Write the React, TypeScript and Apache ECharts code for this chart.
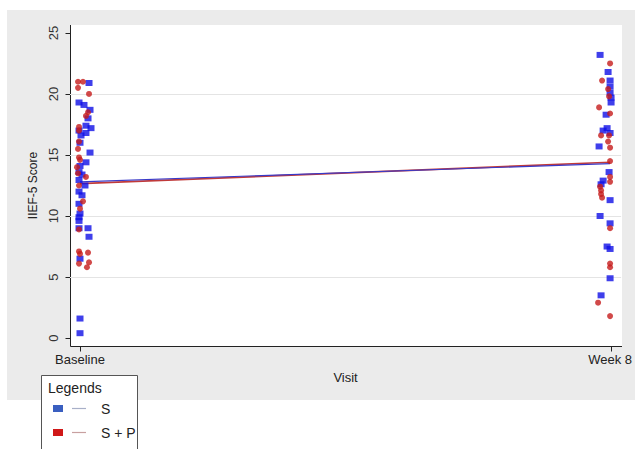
import React, { useEffect, useRef } from "react";
import * as echarts from "echarts";

// Visit positions (weeks): Baseline = 0, Week 8 = 8 ; small horizontal jitter as in the figure
const visitTicks = [0, 8];
const visitLabels = ["Baseline", "Week 8"];
const yTicks = [0, 5, 10, 15, 20, 25];
const gridValues = [5, 10, 15, 20];
const xRange = [-0.151, 8.166];
const yRange = [-0.65, 25.65];

// Group S (blue squares) : [visit (jittered), IIEF-5 score]
const sPoints: number[][] = [
  [0.136, 20.9], [-0.015, 19.3], [0.06, 19.1], [0.151, 18.7], [0.121, 18.0], [0.09, 17.4],
  [0.166, 17.2], [-0.015, 17.0], [0.015, 16.6], [0.09, 16.8], [0.0, 16.0], [0.151, 15.2],
  [0.09, 14.4], [0.0, 14.1], [-0.015, 13.6], [0.03, 13.4], [-0.015, 12.95], [0.075, 12.5],
  [-0.015, 12.0], [0.03, 11.7], [-0.015, 11.0], [0.0, 10.2], [-0.015, 9.9], [-0.015, 9.6],
  [-0.015, 9.0], [0.121, 9.0], [0.136, 8.3], [0.0, 6.5], [0.0, 1.6], [0.0, 0.4],
  [7.849, 23.2], [7.97, 21.8], [8.0, 21.1], [8.0, 20.6], [8.0, 20.1], [8.015, 19.7],
  [8.015, 19.3], [7.94, 18.3], [7.955, 17.2], [7.895, 17.0], [8.0, 16.8], [7.834, 15.7],
  [7.985, 13.6], [7.895, 12.9], [7.864, 12.6], [8.0, 11.3], [7.849, 10.0], [8.0, 9.4],
  [7.955, 7.5], [8.0, 7.3], [8.0, 4.9], [7.864, 3.5],
];

// Group S + P (red circles)
const spPoints: number[][] = [
  [-0.03, 21.0], [0.045, 21.0], [-0.03, 20.5], [0.136, 20.0], [0.121, 18.5], [0.09, 18.2],
  [-0.015, 17.3], [-0.015, 17.0], [-0.015, 16.1], [-0.03, 15.5], [-0.015, 14.8], [0.0, 14.6],
  [-0.045, 14.0], [-0.03, 13.5], [0.09, 13.2], [-0.015, 12.5], [0.045, 11.2], [0.0, 10.6],
  [-0.015, 8.9], [-0.015, 7.1], [0.0, 6.9], [0.121, 7.0], [-0.015, 6.1], [0.136, 6.2],
  [0.105, 5.8],
  [8.0, 22.5], [7.879, 21.1], [7.97, 20.4], [7.985, 19.8], [7.834, 18.9], [8.0, 18.4],
  [7.864, 16.6], [7.985, 16.6], [7.97, 16.1], [8.0, 15.6], [8.0, 14.5], [8.0, 13.2],
  [8.0, 12.8], [7.849, 12.4], [7.864, 12.1], [7.864, 11.8], [7.879, 11.5], [8.0, 9.0],
  [8.0, 6.1], [8.0, 5.8], [7.819, 2.9], [8.0, 1.8],
];

// Fitted mean lines (Baseline -> Week 8)
const sFit = [[0, 12.8], [8, 14.3]];
const spFit = [[0, 12.65], [8, 14.4]];

const BLUE = "#0f0fe6";
const RED = "#c61c1c";
const AXIS = "#222222";
const FONT = "'Liberation Sans', Arial, sans-serif";

// plot frame
const W = 635, H = 449;
const G = { left: 70, right: 13, top: 25, bottom: 103 };

export default function App() {
  const ref = useRef<HTMLDivElement>(null);
  useEffect(() => {
    if (!ref.current) return;
    const chart = echarts.init(ref.current, undefined, { renderer: "svg" });

    const x0 = G.left, x1 = W - G.right, y0 = G.top, y1 = H - G.bottom;
    const yPix = (v: number) => y1 - ((v - yRange[0]) / (yRange[1] - yRange[0])) * (y1 - y0);
    const xPix = (v: number) => x0 + ((v - xRange[0]) / (xRange[1] - xRange[0])) * (x1 - x0);
    const ax = x0 + 0.5, ay = y1 + 0.5;
    const axisEls: any[] = [
      { type: "line", shape: { x1: ax, y1: y0, x2: ax, y2: ay }, style: { stroke: AXIS, lineWidth: 1 } },
      { type: "line", shape: { x1: ax, y1: ay, x2: x1, y2: ay }, style: { stroke: AXIS, lineWidth: 1 } },
    ];
    yTicks.forEach((v) => {
      const y = Math.round(yPix(v)) + 0.5;
      axisEls.push({ type: "line", shape: { x1: ax - 5, y1: y, x2: ax, y2: y }, style: { stroke: AXIS, lineWidth: 1 } });
    });
    visitTicks.forEach((v) => {
      const x = Math.round(xPix(v)) + 0.5;
      axisEls.push({ type: "line", shape: { x1: x, y1: ay, x2: x, y2: ay + 5 }, style: { stroke: AXIS, lineWidth: 1 } });
    });

    chart.setOption({
      animation: false,
      backgroundColor: "#ffffff",
      graphic: [
        {
          type: "rect",
          z: -10,
          shape: { x: 7, y: 10, width: 628, height: 390 },
          style: { fill: "#ebebeb" },
          silent: true,
        },
        {
          type: "rect",
          z: -9,
          shape: { x: x0, y: y0, width: x1 - x0, height: y1 - y0 },
          style: { fill: "#ffffff" },
          silent: true,
        },
        { type: "group", z: 50, silent: true, children: axisEls },
        {
          type: "group",
          z: 100,
          children: [
            {
              type: "rect",
              shape: { x: 41.5, y: 375.5, width: 96, height: 80 },
              style: { fill: "#ffffff", stroke: "#555", lineWidth: 1 },
            },
            {
              type: "text",
              x: 48,
              y: 388,
              style: { text: "Legends", font: "14px " + FONT, fill: "#222", verticalAlign: "middle" },
            },
            { type: "rect", shape: { x: 53, y: 405, width: 10, height: 7 }, style: { fill: "#3a5fc0" } },
            { type: "line", shape: { x1: 72, y1: 408.5, x2: 86, y2: 408.5 }, style: { stroke: "#a8b0c8", lineWidth: 1.2 } },
            {
              type: "text",
              x: 101,
              y: 409,
              style: { text: "S", font: "14px " + FONT, fill: "#222", verticalAlign: "middle" },
            },
            { type: "rect", shape: { x: 53, y: 429, width: 10, height: 7 }, style: { fill: "#d01818" } },
            { type: "line", shape: { x1: 72, y1: 432.5, x2: 86, y2: 432.5 }, style: { stroke: "#c8a0a0", lineWidth: 1.2 } },
            {
              type: "text",
              x: 101,
              y: 433,
              style: { text: "S + P", font: "14px " + FONT, fill: "#222", verticalAlign: "middle" },
            },
          ],
        },
      ],
      grid: { ...G, show: false },
      xAxis: {
        type: "value",
        min: xRange[0],
        max: xRange[1],
        name: "Visit",
        nameLocation: "middle",
        nameGap: 24,
        nameTextStyle: { fontFamily: FONT, fontSize: 13, color: "#222" },
        axisLine: { show: false },
        axisTick: { show: false },
        axisLabel: {
          customValues: visitTicks,
          margin: 7,
          fontFamily: FONT,
          fontSize: 13,
          color: "#222",
          formatter: (v: number) => visitLabels[visitTicks.indexOf(v)] ?? "",
        },
        splitLine: { show: false },
      },
      yAxis: {
        type: "value",
        min: yRange[0],
        max: yRange[1],
        name: "IIEF-5 Score",
        nameLocation: "middle",
        nameRotate: 90,
        nameGap: 30,
        nameTextStyle: { fontFamily: FONT, fontSize: 12, color: "#222" },
        axisLine: { show: false },
        axisTick: { show: false },
        axisLabel: {
          customValues: yTicks,
          rotate: 90,
          margin: 10,
          fontFamily: FONT,
          fontSize: 13,
          color: "#333",
        },
        splitLine: { show: false },
      },
      series: [
        {
          type: "line",
          data: [],
          silent: true,
          markLine: {
            silent: true,
            symbol: "none",
            label: { show: false },
            lineStyle: { color: "#e4e4e4", width: 1, type: "solid" },
            data: gridValues.map((v) => ({ yAxis: v })),
          },
        },
        {
          name: "S + P fit",
          type: "line",
          data: spFit,
          symbol: "none",
          lineStyle: { color: "#c03a3a", width: 1.6 },
          z: 3,
        },
        {
          name: "S fit",
          type: "line",
          data: sFit,
          symbol: "none",
          lineStyle: { color: "#3a3ac8", width: 1.2 },
          z: 4,
        },
        {
          name: "S",
          type: "scatter",
          data: sPoints,
          symbol: "rect",
          symbolSize: [7, 6],
          itemStyle: { color: BLUE },
          z: 5,
        },
        {
          name: "S + P",
          type: "scatter",
          data: spPoints,
          symbol: "circle",
          symbolSize: 6,
          itemStyle: { color: RED },
          z: 6,
        },
      ],
    });
    return () => chart.dispose();
  }, []);
  return (
    <div
      ref={ref}
      style={{ position: "absolute", left: 0, top: 0, width: W, height: H }}
    />
  );
}
